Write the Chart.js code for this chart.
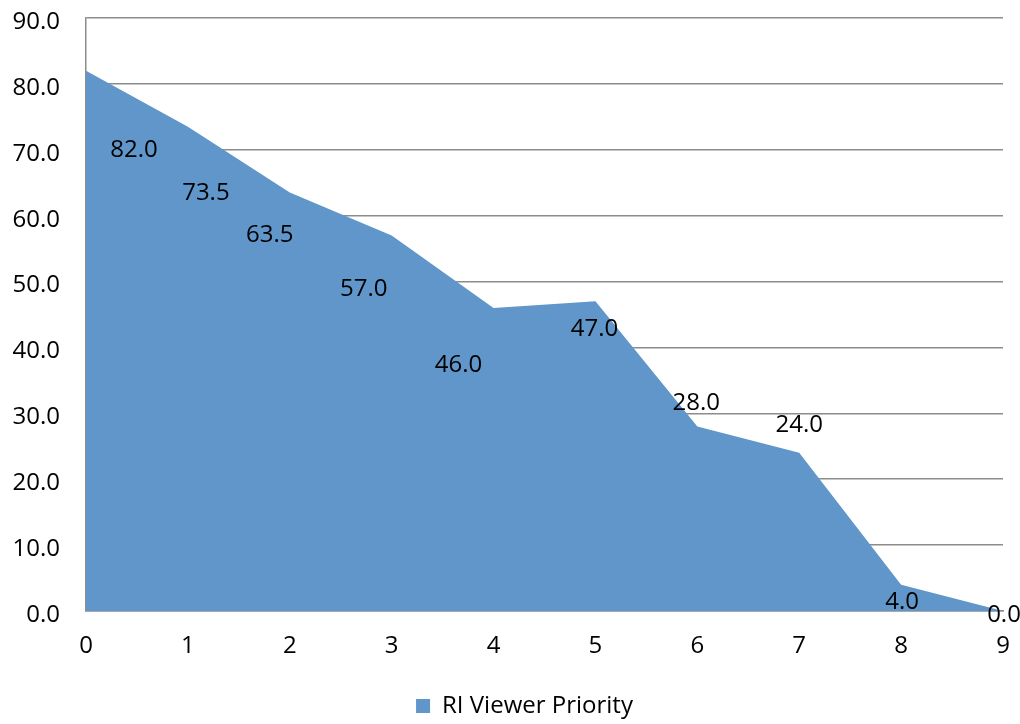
<!DOCTYPE html>
<html>
<head>
<meta charset="utf-8">
<script src="https://cdn.jsdelivr.net/npm/chart.js@4/dist/chart.umd.min.js"></script>
<style>
    html, body { margin: 0; padding: 0; background: #fff; }
    #wrap { width: 1020px; height: 724px; }
</style>
</head>
<body>
<div id="wrap"><canvas id="areaChart"></canvas></div>
<script>
// Chart data
const xLabels = ['0', '1', '2', '3', '4', '5', '6', '7', '8', '9'];
const priorityValues = [82.0, 73.5, 63.5, 57.0, 46.0, 47.0, 28.0, 24.0, 4.0, 0.0];
const seriesName = 'RI Viewer Priority';

// where each value label sits relative to its point (px), as in the original
const labelOffsets = [
    [48, 76], [18, 63], [-20, 40], [-28, 51], [-35, 54],
    [-1, 25], [-1, -26], [0, -31], [1, 15], [1, 1],
];

const FONT = '"Open Sans", "Noto Sans", sans-serif';
const FONT_SIZE = 24;
const AREA_COLOR = '#6096c9';
const GRID_COLOR = '#8c8c8c';

// Draws the value labels next to each point
const valueLabels = {
    id: 'valueLabels',
    afterDatasetsDraw(chart) {
        const ctx = chart.ctx;
        const meta = chart.getDatasetMeta(0);
        ctx.save();
        ctx.font = `${FONT_SIZE}px ${FONT}`;
        ctx.fillStyle = '#000';
        ctx.textAlign = 'center';
        ctx.textBaseline = 'middle';
        meta.data.forEach((pt, i) => {
            const off = labelOffsets[i] || [0, 0];
            // +3: Open Sans sits a little high on a 'middle' baseline
            ctx.fillText(priorityValues[i].toFixed(1), pt.x + off[0], pt.y + off[1] + 3);
        });
        ctx.restore();
    },
};

// Nudge the legend to where the original has it
const legendNudge = {
    id: 'legendNudge',
    afterLayout(chart) {
        const lg = chart.legend;
        if (!lg) return;
        lg.left += 23;
        lg.right += 23;
        lg.top += 4;
        lg.bottom += 4;
    },
};

const ctx = document.getElementById('areaChart').getContext('2d');
const chart = new Chart(ctx, {
    type: 'line',
    data: {
        labels: xLabels,
        datasets: [{
            label: seriesName,
            data: priorityValues,
            fill: 'origin',
            backgroundColor: AREA_COLOR,
            borderColor: AREA_COLOR,
            borderWidth: 0,
            pointRadius: 0,
            tension: 0,
        }],
    },
    options: {
        responsive: true,
        maintainAspectRatio: false,
        animation: false,
        layout: {
            padding: { top: 18, right: 17, left: 0, bottom: 0 },
        },
        plugins: {
            legend: {
                position: 'bottom',
                labels: {
                    font: { family: FONT, size: FONT_SIZE },
                    color: '#000',
                    boxWidth: 14,
                    boxHeight: 14,
                    padding: 8,
                },
            },
            tooltip: { enabled: false },
        },
        scales: {
            x: {
                offset: false,
                grid: { display: false },
                border: { display: true, color: GRID_COLOR, width: 1.5 },
                ticks: {
                    font: { family: FONT, size: FONT_SIZE },
                    color: '#000',
                    padding: 13,
                    maxRotation: 0,
                },
                afterFit(scale) {
                    scale.height = 71;
                    scale.paddingLeft = 0;
                    scale.paddingRight = 0;
                },
            },
            y: {
                min: 0,
                max: 90,
                grid: {
                    color: GRID_COLOR,
                    lineWidth: 1.5,
                    drawTicks: false,
                },
                border: { display: true, color: GRID_COLOR, width: 1.5 },
                ticks: {
                    stepSize: 10,
                    font: { family: FONT, size: FONT_SIZE },
                    color: '#000',
                    padding: 26,
                    labelOffset: 4,
                    callback: (v) => Number(v).toFixed(1),
                },
                afterFit(scale) {
                    scale.width = 86;
                    scale.paddingTop = 0;
                    scale.paddingBottom = 0;
                },
            },
        },
    },
    plugins: [valueLabels, legendNudge],
});
</script>
</body>
</html>
